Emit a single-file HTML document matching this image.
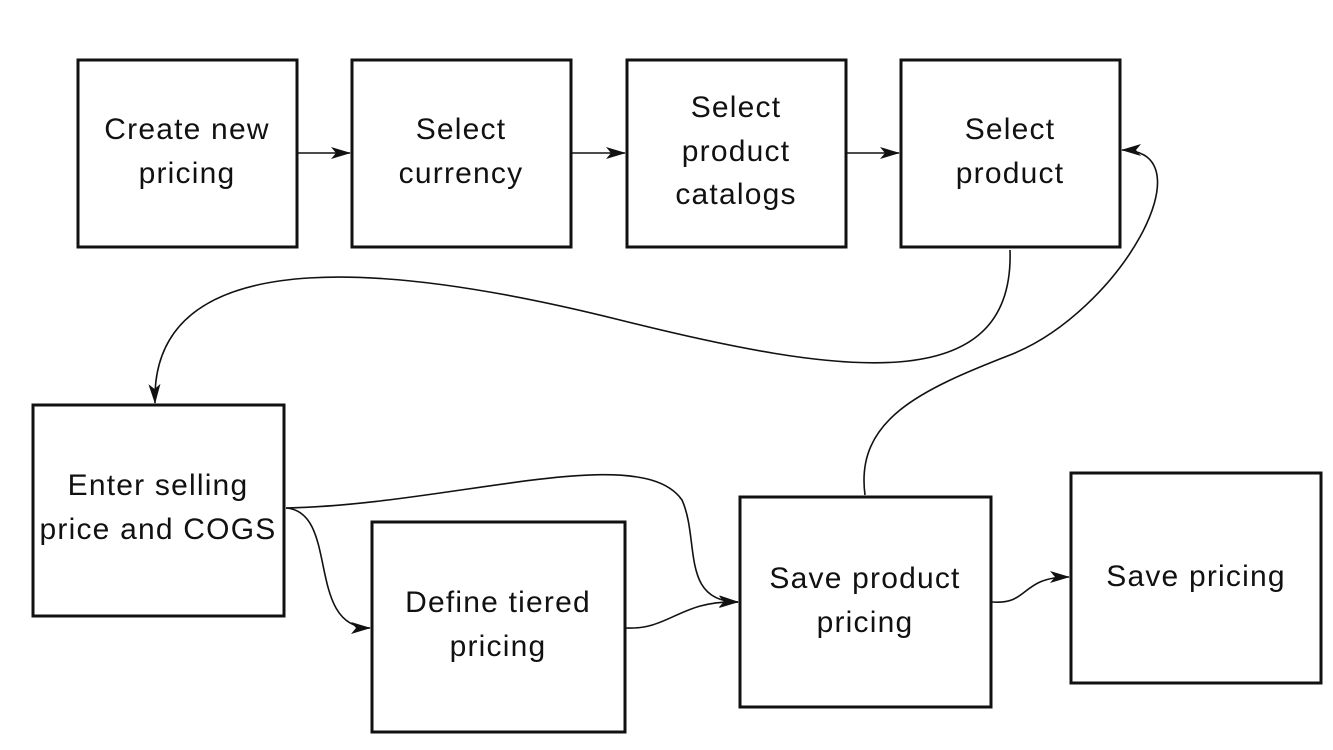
<!DOCTYPE html>
<html><head><meta charset="utf-8"><style>
html,body{margin:0;padding:0;background:#fff}
svg{display:block}
text{font-family:"Liberation Sans",sans-serif;font-size:30px;letter-spacing:1.2px;fill:#111;text-anchor:middle}
rect{fill:#fff;stroke:#111;stroke-width:3}
path{fill:none;stroke:#111;stroke-width:1.6}
</style></head><body>
<svg width="1333" height="750" viewBox="0 0 1333 750">
<defs><marker id="a" markerWidth="20" markerHeight="12" refX="19" refY="6" orient="auto" markerUnits="userSpaceOnUse"><path d="M0,0 L20,6 L0,12 L5,6 Z" style="fill:#111;stroke:none"/></marker></defs>
<rect x="78" y="60" width="219" height="187"/>
<rect x="352" y="60" width="219" height="187"/>
<rect x="627" y="60" width="219" height="187"/>
<rect x="901" y="60" width="219" height="187"/>
<rect x="33" y="405" width="251" height="211"/>
<rect x="372" y="522" width="253" height="210"/>
<rect x="740" y="497" width="251" height="210"/>
<rect x="1071" y="473" width="250" height="210"/>
<text x="187" y="139">Create new</text><text x="187" y="183">pricing</text>
<text x="461" y="139">Select</text><text x="461" y="183">currency</text>
<text x="736" y="117">Select</text><text x="736" y="161">product</text><text x="736" y="204">catalogs</text>
<text x="1010" y="139">Select</text><text x="1010" y="183">product</text>
<text x="158" y="495">Enter selling</text><text x="158" y="539">price and COGS</text>
<text x="498" y="612">Define tiered</text><text x="498" y="656">pricing</text>
<text x="865" y="588">Save product</text><text x="865" y="632">pricing</text>
<text x="1196" y="586">Save pricing</text>
<path d="M298,153 L350,153" marker-end="url(#a)"/>
<path d="M572,153 L625,153" marker-end="url(#a)"/>
<path d="M847,153 L899,153" marker-end="url(#a)"/>
<path d="M1010,250 C1015,400 840,375 620,320 C420,270 150,230 155,403" marker-end="url(#a)"/>
<path d="M865,495 C855,420 920,390 1010,355 C1120,312 1210,150 1122,150" marker-end="url(#a)"/>
<path d="M286,508 C450,505 640,440 682,500 C700,540 680,602 738,602" marker-end="url(#a)"/>
<path d="M286,508 C340,512 305,628 370,628" marker-end="url(#a)"/>
<path d="M626,628 C670,630 680,600 738,602" marker-end="url(#a)"/>
<path d="M992,602 C1030,605 1020,577 1069,577" marker-end="url(#a)"/>
</svg>
</body></html>
